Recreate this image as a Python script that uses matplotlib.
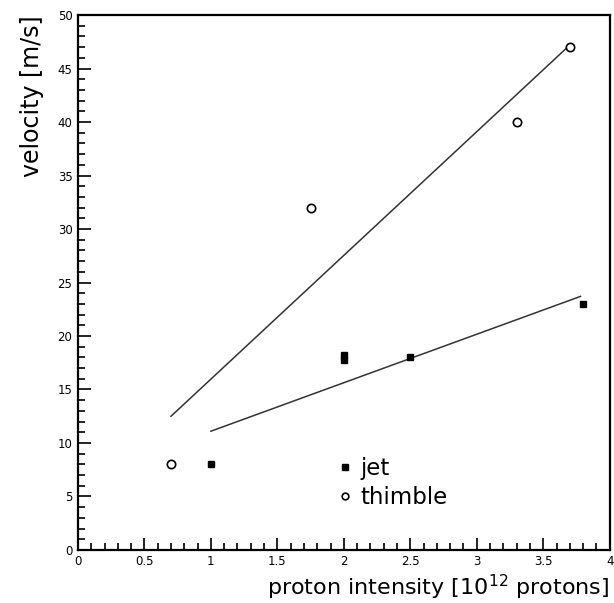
import matplotlib
matplotlib.use("Agg")
import matplotlib.pyplot as plt
from matplotlib.ticker import MultipleLocator

# dane
jet_x = [1.0, 2.0, 2.0, 2.5, 3.8]
jet_y = [8.0, 18.2, 17.8, 18.0, 23.0]
thimble_x = [0.7, 1.75, 3.3, 3.7]
thimble_y = [8.0, 32.0, 40.0, 47.0]

# dopasowane proste (konce odcinkow)
jet_fit_x = [1.0, 3.78]
jet_fit_y = [11.1, 23.7]
thimble_fit_x = [0.7, 3.7]
thimble_fit_y = [12.5, 47.2]

fig = plt.figure(figsize=(6.14, 6.03), dpi=100)
ax = fig.add_axes([0.127, 0.088, 0.866, 0.887])

ax.plot(thimble_fit_x, thimble_fit_y, color="#333333", lw=1.1)
ax.plot(jet_fit_x, jet_fit_y, color="#333333", lw=1.1)
ax.plot(jet_x, jet_y, ls="none", marker="s", ms=5, color="black", label="jet")
ax.plot(thimble_x, thimble_y, ls="none", marker="o", ms=6, mfc="white",
        mec="black", mew=1.2, label="thimble")

ax.set_xlim(0, 4)
ax.set_ylim(0, 50)
ax.xaxis.set_major_locator(MultipleLocator(0.5))
ax.xaxis.set_minor_locator(MultipleLocator(0.1))
ax.yaxis.set_major_locator(MultipleLocator(5))
ax.yaxis.set_minor_locator(MultipleLocator(1))
ax.set_xticks([0, 0.5, 1, 1.5, 2, 2.5, 3, 3.5, 4])
ax.set_xticklabels(["0", "0.5", "1", "1.5", "2", "2.5", "3", "3.5", "4"])
ax.tick_params(which="both", direction="in", top=False, right=False,
               width=1.2, labelsize=8.5, pad=4)
ax.tick_params(which="major", length=9)
ax.tick_params(which="minor", length=5)
for s in ax.spines.values():
    s.set_linewidth(1.6)

ax.set_xlabel("proton intensity [10$^{12}$ protons]", fontsize=16, loc="right",
              labelpad=3)
ax.set_ylabel("velocity [m/s]", fontsize=17, loc="top", labelpad=10)

ax.legend(loc="upper left", bbox_to_anchor=(0.475, 0.19), frameon=False,
          fontsize=16.5, handlelength=0.5, handletextpad=0.4, labelspacing=0.25,
          borderaxespad=0, markerscale=0.8)

fig.savefig("out.png", dpi=100)
